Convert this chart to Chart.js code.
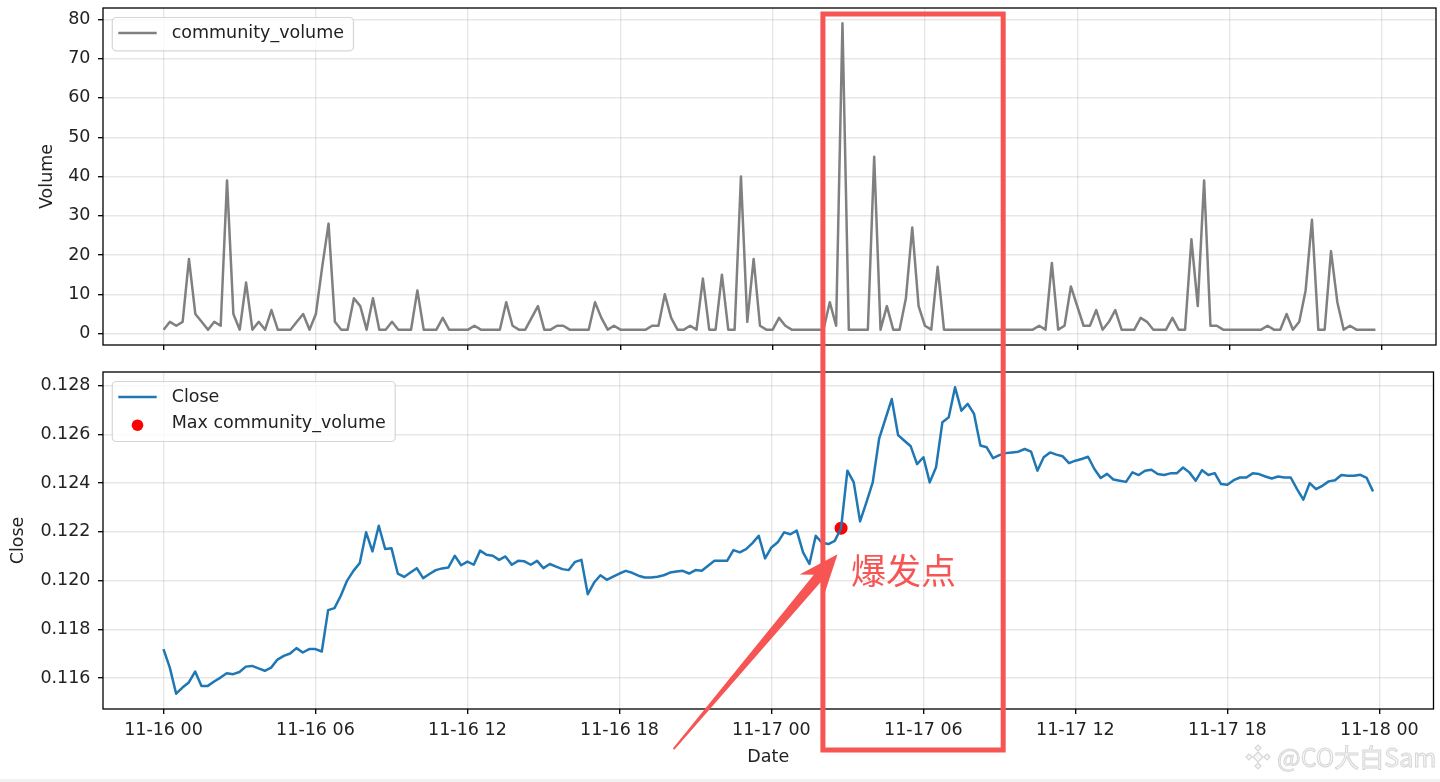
<!DOCTYPE html>
<html lang="zh">
<head>
<meta charset="utf-8">
<title>community_volume / Close</title>
<script src="https://cdn.jsdelivr.net/npm/chart.js@4.4.1/dist/chart.umd.min.js"></script>
<style>
    html, body { margin: 0; padding: 0; background: #fff; }
    body { width: 1440px; height: 782px; position: relative; overflow: hidden; }
    canvas { position: absolute; left: 0; }
    #volumeChart { top: 0; }
    #closeChart { top: 360px; }
    #overlay { top: 0; pointer-events: none; z-index: 2; }
    .page-edge { position: absolute; left: 0; top: 779px; width: 1440px; height: 3px; background: #f2f2f2; }
</style>
</head>
<body>
<canvas id="volumeChart" width="1440" height="360"></canvas>
<canvas id="closeChart" width="1440" height="422"></canvas>
<canvas id="overlay" width="1440" height="782"></canvas>
<div class="page-edge"></div>
<script>
// 15-minute bars starting 11-16 00:00
const volume = [
    1, 3, 2, 3, 19, 5, 3, 1, 3, 2,
    39, 5, 1, 13, 1, 3, 1, 6, 1, 1,
    1, 3, 5, 1, 5, 17, 28, 3, 1, 1,
    9, 7, 1, 9, 1, 1, 3, 1, 1, 1,
    11, 1, 1, 1, 4, 1, 1, 1, 1, 2,
    1, 1, 1, 1, 8, 2, 1, 1, 4, 7,
    1, 1, 2, 2, 1, 1, 1, 1, 8, 4,
    1, 2, 1, 1, 1, 1, 1, 2, 2, 10,
    4, 1, 1, 2, 1, 14, 1, 1, 15, 1,
    1, 40, 3, 19, 2, 1, 1, 4, 2, 1,
    1, 1, 1, 1, 1, 8, 2, 79, 1, 1,
    1, 1, 45, 1, 7, 1, 1, 9, 27, 7,
    2, 1, 17, 1, 1, 1, 1, 1, 1, 1,
    1, 1, 1, 1, 1, 1, 1, 1, 2, 1,
    18, 1, 2, 12, 7, 2, 2, 6, 1, 3,
    6, 1, 1, 1, 4, 3, 1, 1, 1, 4,
    1, 1, 24, 7, 39, 2, 2, 1, 1, 1,
    1, 1, 1, 1, 2, 1, 1, 5, 1, 3,
    11, 29, 1, 1, 21, 8, 1, 2, 1, 1,
    1, 1
];

const closePrice = [
    0.11719, 0.11643, 0.11536, 0.11561, 0.11582, 0.11627, 0.11568, 0.11568, 0.11586, 0.11602,
    0.11620, 0.11616, 0.11625, 0.11647, 0.11650, 0.11640, 0.11630, 0.11643, 0.11676, 0.11691,
    0.11701, 0.11723, 0.11705, 0.11719, 0.11719, 0.11709, 0.11879, 0.11887, 0.11938, 0.12000,
    0.12040, 0.12072, 0.12198, 0.12120, 0.12225, 0.12130, 0.12133, 0.12029, 0.12015, 0.12033,
    0.12051, 0.12010, 0.12027, 0.12043, 0.12050, 0.12054, 0.12102, 0.12063, 0.12078, 0.12065,
    0.12123, 0.12106, 0.12102, 0.12085, 0.12099, 0.12065, 0.12081, 0.12079, 0.12065, 0.12081,
    0.12051, 0.12068, 0.12057, 0.12047, 0.12043, 0.12077, 0.12085, 0.11944, 0.11992, 0.12022,
    0.12003, 0.12016, 0.12029, 0.12040, 0.12032, 0.12020, 0.12013, 0.12013, 0.12016, 0.12022,
    0.12033, 0.12037, 0.12040, 0.12029, 0.12043, 0.12040, 0.12061, 0.12081, 0.12081, 0.12081,
    0.12125, 0.12116, 0.12129, 0.12154, 0.12184, 0.12091, 0.12136, 0.12157, 0.12198, 0.12190,
    0.12205, 0.12116, 0.12068, 0.12184, 0.12155, 0.12150, 0.12163, 0.12215, 0.12451, 0.12403,
    0.12243, 0.12321, 0.12403, 0.12581, 0.12663, 0.12745, 0.12597, 0.12574, 0.12551, 0.12478,
    0.12506, 0.12403, 0.12465, 0.12650, 0.12670, 0.12793, 0.12697, 0.12725, 0.12684, 0.12554,
    0.12547, 0.12502, 0.12515, 0.12523, 0.12526, 0.12529, 0.12540, 0.12529, 0.12451, 0.12506,
    0.12526, 0.12517, 0.12510, 0.12482, 0.12492, 0.12499, 0.12508, 0.12458, 0.12421, 0.12438,
    0.12415, 0.12410, 0.12405, 0.12444, 0.12433, 0.12451, 0.12455, 0.12437, 0.12433, 0.12440,
    0.12440, 0.12464, 0.12444, 0.12410, 0.12453, 0.12433, 0.12441, 0.12396, 0.12393, 0.12412,
    0.12423, 0.12423, 0.12440, 0.12437, 0.12427, 0.12419, 0.12427, 0.12423, 0.12423, 0.12375,
    0.12332, 0.12400, 0.12375, 0.12389, 0.12407, 0.12412, 0.12433, 0.12430, 0.12430, 0.12434,
    0.12421, 0.12366
];

const stepMinutes = 15;
const xTickValues = [0, 360, 720, 1080, 1440, 1800, 2160, 2520, 2880]; // minutes from 11-16 00:00
const xTickLabels = ['11-16 00', '11-16 06', '11-16 12', '11-16 18', '11-17 00', '11-17 06', '11-17 12', '11-17 18', '11-18 00'];
const volumeTicks = [0, 10, 20, 30, 40, 50, 60, 70, 80];
const closeTicks = [0.116, 0.118, 0.120, 0.122, 0.124, 0.126, 0.128];

// hand-drawn highlight box on the screenshot, in minutes from 11-16 00:00
const highlightWindow = [1562, 1989];

const times = volume.map((v, i) => i * stepMinutes);

const TEXT = '#222';
const GRID = 'rgba(176, 176, 176, 0.3)';
const RED = '#f75454';
const FONT = '"DejaVu Sans", "Liberation Sans", sans-serif';

Chart.defaults.font.family = FONT;
Chart.defaults.font.size = 17.5;
Chart.defaults.color = TEXT;

// matplotlib style autoscale: data range plus 5% on each side
function paddedRange(values) {
    const lo = Math.min(...values);
    const hi = Math.max(...values);
    const pad = (hi - lo) * 0.05;
    return [lo - pad, hi + pad];
}

// frame around the plot + legend box in its upper-left corner
const boxLegend = {
    id: 'boxLegend',
    afterDraw(chart) {
        const ctx = chart.ctx;
        const area = chart.chartArea;
        ctx.save();

        ctx.strokeStyle = '#000';
        ctx.lineWidth = 1.3;
        ctx.strokeRect(area.left, area.top, area.right - area.left, area.bottom - area.top);

        ctx.font = '17.5px ' + FONT;
        const items = chart.data.datasets.map(ds => ({
            label: ds.label,
            dot: ds.type === 'scatter',
            color: ds.type === 'scatter' ? ds.backgroundColor : ds.borderColor,
            width: ds.borderWidth
        }));
        const textW = Math.max(...items.map(it => ctx.measureText(it.label).width));
        const x0 = area.left + 9.3;
        const y0 = area.top + 9.5;
        const rowStep = 26.7;
        const w = 59.4 + textW + 9.5;
        const h = 33.3 + (items.length - 1) * rowStep;

        ctx.beginPath();
        ctx.roundRect(x0, y0, w, h, 4);
        ctx.fillStyle = 'rgba(255, 255, 255, 0.8)';
        ctx.fill();
        ctx.strokeStyle = 'rgba(204, 204, 204, 0.8)';
        ctx.lineWidth = 1.2;
        ctx.stroke();

        items.forEach((it, k) => {
            const cy = y0 + 15.5 + k * rowStep;
            if (it.dot) {
                ctx.beginPath();
                ctx.arc(x0 + 25.2, cy + 1.5, 5.8, 0, Math.PI * 2);
                ctx.fillStyle = it.color;
                ctx.fill();
            } else {
                ctx.beginPath();
                ctx.moveTo(x0 + 6, cy);
                ctx.lineTo(x0 + 44.4, cy);
                ctx.strokeStyle = it.color;
                ctx.lineWidth = it.width;
                ctx.stroke();
            }
            ctx.fillStyle = TEXT;
            ctx.textBaseline = 'middle';
            ctx.textAlign = 'left';
            ctx.fillText(it.label, x0 + 59.4, cy);
        });
        ctx.restore();
    }
};

function makeScales(opts) {
    const xRange = paddedRange(times);
    const yRange = paddedRange(opts.values);
    const grid = { color: GRID, lineWidth: 1.4, drawTicks: true, tickLength: 5, tickColor: '#000', tickWidth: 1.3 };
    return {
        x: {
            type: 'linear',
            min: xRange[0],
            max: xRange[1],
            afterBuildTicks: scale => { scale.ticks = xTickValues.map(v => ({ value: v })); },
            afterFit: scale => {
                scale.height = opts.xHeight;
                scale.paddingLeft = 0;
                scale.paddingRight = 0;
            },
            ticks: {
                display: opts.showDates,
                maxRotation: 0,
                autoSkip: false,
                padding: 5.5,
                callback: v => xTickLabels[xTickValues.indexOf(v)]
            },
            grid: grid,
            border: { display: false },
            title: { display: opts.showDates, text: 'Date', padding: { top: 0, bottom: 14.5 } }
        },
        y: {
            type: 'linear',
            min: yRange[0],
            max: yRange[1],
            afterBuildTicks: scale => { scale.ticks = opts.ticks.map(v => ({ value: v })); },
            afterFit: scale => {
                scale.width = 103;
                scale.paddingTop = 0;
                scale.paddingBottom = 0;
            },
            ticks: { padding: 7.5, callback: opts.format },
            grid: grid,
            border: { display: false },
            title: { display: true, text: opts.title, padding: { top: opts.titlePad, bottom: 0 } }
        }
    };
}

function initializeVolumeChart() {
    const ctx = document.getElementById('volumeChart');
    return new Chart(ctx, {
        type: 'line',
        data: {
            datasets: [{
                label: 'community_volume',
                data: volume.map((v, i) => ({ x: times[i], y: v })),
                borderColor: '#808080',
                borderWidth: 2.5,
                borderJoinStyle: 'round',
                pointRadius: 0,
                tension: 0,
                fill: false
            }]
        },
        options: {
            responsive: false,
            animation: false,
            events: [],
            layout: { padding: { left: 0, right: 4, top: 8, bottom: 5 } },
            plugins: { legend: { display: false }, tooltip: { enabled: false } },
            scales: makeScales({
                values: volume,
                ticks: volumeTicks,
                format: v => String(v),
                title: 'Volume',
                titlePad: 36.5,
                showDates: false,
                xHeight: 10
            })
        },
        plugins: [boxLegend]
    });
}

function initializeCloseChart(maxPoint) {
    const ctx = document.getElementById('closeChart');
    return new Chart(ctx, {
        type: 'line',
        data: {
            datasets: [{
                label: 'Close',
                data: closePrice.map((v, i) => ({ x: times[i], y: v })),
                borderColor: '#1f77b4',
                borderWidth: 2.5,
                borderJoinStyle: 'round',
                pointRadius: 0,
                tension: 0,
                fill: false
            }, {
                type: 'scatter',
                label: 'Max community_volume',
                data: [maxPoint],
                backgroundColor: '#ff0000',
                pointBackgroundColor: '#ff0000',
                pointBorderWidth: 0,
                pointRadius: 6.5
            }]
        },
        options: {
            responsive: false,
            animation: false,
            events: [],
            layout: { padding: { left: 0, right: 4, top: 12, bottom: 0 } },
            plugins: { legend: { display: false }, tooltip: { enabled: false } },
            scales: makeScales({
                values: closePrice,
                ticks: closeTicks,
                format: v => v.toFixed(3),
                title: 'Close',
                titlePad: 7.5,
                showDates: true,
                xHeight: 73
            })
        },
        plugins: [boxLegend]
    });
}

// red box, arrow, label and the watermark that were drawn over the screenshot
function drawAnnotations(closeChart, maxPoint) {
    const canvas = document.getElementById('overlay');
    const ctx = canvas.getContext('2d');
    const xs = closeChart.scales.x;
    const ys = closeChart.scales.y;
    const offsetTop = closeChart.canvas.offsetTop;

    const left = xs.getPixelForValue(highlightWindow[0]);
    const right = xs.getPixelForValue(highlightWindow[1]);
    ctx.strokeStyle = RED;
    ctx.lineWidth = 5;
    ctx.strokeRect(left, 14, right - left, 736);

    const px = xs.getPixelForValue(maxPoint.x);
    const py = offsetTop + ys.getPixelForValue(maxPoint.y);
    const tip = { x: px - 3.5, y: py + 26 };
    const tail = { x: px - 167.5, y: py + 221 };
    const len = Math.hypot(tip.x - tail.x, tip.y - tail.y);
    const u = { x: (tip.x - tail.x) / len, y: (tip.y - tail.y) / len };
    const n = { x: -u.y, y: u.x };
    const at = (base, along, side) => [base.x + u.x * along + n.x * side, base.y + u.y * along + n.y * side];
    const pts = [
        at(tip, 0, 0),
        at(tip, -40, 16),
        at(tip, -31, 5),
        at(tail, 0, 1),
        at(tail, 0, -1),
        at(tip, -31, -5),
        at(tip, -40, -16)
    ];
    ctx.beginPath();
    pts.forEach((p, k) => (k ? ctx.lineTo(p[0], p[1]) : ctx.moveTo(p[0], p[1])));
    ctx.closePath();
    ctx.fillStyle = RED;
    ctx.fill();

    ctx.font = '35px "Noto Sans CJK SC"';
    ctx.textBaseline = 'middle';
    ctx.textAlign = 'left';
    ctx.fillText('爆发点', px + 10, py + 43);

    // watermark
    ctx.save();
    ctx.strokeStyle = '#d6d6d6';
    ctx.fillStyle = '#f7f7f7';
    ctx.lineWidth = 1.2;
    const cx = 1258, cy = 757;
    [[0, 0, 5], [-9, 0, 3], [9, 0, 3], [0, -9, 3], [0, 9, 3]].forEach(d => {
        ctx.beginPath();
        ctx.moveTo(cx + d[0], cy + d[1] - d[2]);
        ctx.lineTo(cx + d[0] + d[2], cy + d[1]);
        ctx.lineTo(cx + d[0], cy + d[1] + d[2]);
        ctx.lineTo(cx + d[0] - d[2], cy + d[1]);
        ctx.closePath();
        ctx.fill();
        ctx.stroke();
    });
    ctx.font = '25px "Noto Sans CJK SC"';
    ctx.fillText('@CO大白Sam', 1277, cy);
    ctx.lineWidth = 1;
    ctx.strokeText('@CO大白Sam', 1277, cy);
    ctx.restore();
}

document.addEventListener('DOMContentLoaded', function() {
    const maxIdx = volume.indexOf(Math.max(...volume));
    const maxPoint = { x: times[maxIdx], y: closePrice[maxIdx] };

    initializeVolumeChart();
    const closeChart = initializeCloseChart(maxPoint);
    drawAnnotations(closeChart, maxPoint);
});
</script>
</body>
</html>
